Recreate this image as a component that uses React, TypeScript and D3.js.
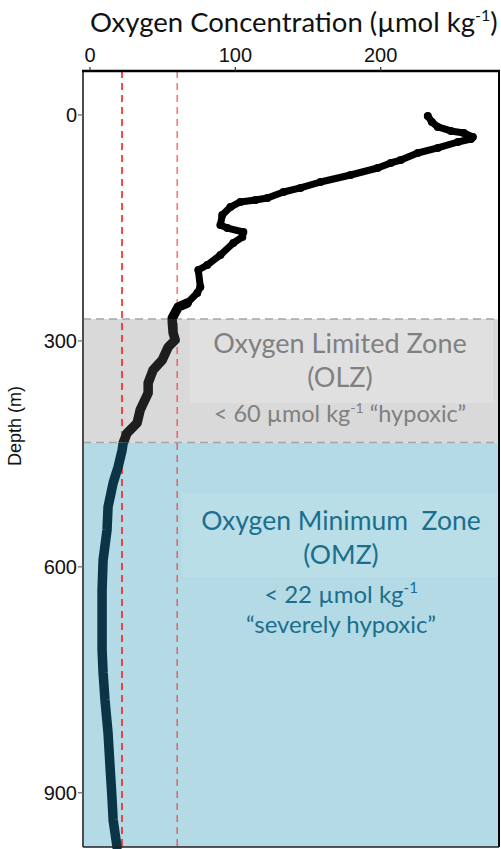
import React from "react";
import * as d3 from "d3";

// Oxygen profile (µmol/kg) vs depth (m)
const oxygen = [232.4, 235.2, 239.3, 248.3, 257.2, 263.4, 262.1, 253.1, 239.3, 225.5, 213.8, 206.9, 197.9, 179.3, 158.6, 144.8, 133.1, 122.1, 113.8, 103.4, 96.6, 91.0, 89.7, 94.5, 105.5, 104.8, 98.6, 89.7, 80.7, 74.5, 75.9, 73.8, 66.9, 60.7, 56.6, 56.6, 57.2, 58.6, 53.8, 49.7, 43.4, 40.0, 40.0, 34.5, 32.4, 25.5, 22.8, 22.1, 19.3, 15.9, 12.4, 11.7, 9.0, 8.3, 8.3, 8.3, 9.0, 10.3, 12.4, 13.8, 15.2, 15.9, 18.6];
const depth = [1.3, 9.3, 15.9, 21.2, 23.9, 29.2, 31.9, 35.9, 43.8, 50.5, 59.8, 63.7, 70.4, 79.7, 89.0, 96.9, 102.3, 110.2, 112.9, 115.5, 122.2, 132.8, 146.1, 150.1, 155.4, 162.0, 170.0, 185.9, 199.2, 205.8, 228.4, 236.4, 249.7, 255.0, 269.6, 274.9, 289.5, 298.8, 308.1, 325.4, 338.6, 355.9, 369.2, 391.8, 409.0, 422.3, 435.6, 444.9, 467.5, 488.7, 520.6, 551.1, 591.0, 630.8, 674.6, 710.5, 741.0, 776.9, 820.7, 865.9, 909.7, 936.3, 972.1];

const xTicks = [0, 100, 200];
const yTicks = [0, 300, 600, 900];
const thresholds = [22, 60];
const olzTop = 271;
const omzTop = 435;

const titleMain = "Oxygen Concentration (µmol kg";
const yTitle = "Depth (m)";
const olzLines = ["Oxygen Limited Zone", "(OLZ)"];
const omzLines = ["Oxygen Minimum  Zone", "(OMZ)"];

export default function App() {
  const W = 501, H = 849;
  const left = 83, right = 499, top = 71, bottom = 847;
  const x = d3.scaleLinear().domain([-4.83, 281.4]).range([left, right]);
  const y = d3.scaleLinear().domain([-58.4, 972]).range([top, bottom]);
  const pts = oxygen.map((o, i) => [o, depth[i]] as [number, number]);
  const line = d3.line<[number, number]>().x(d => x(d[0])).y(d => y(d[1])).curve(d3.curveLinear);
  const upper = pts.filter(d => d[1] <= 256);
  const lower = pts.filter(d => d[1] >= 249);
  const yOlz = y(olzTop), yOmz = y(omzTop);
  const sans = "Lato, 'Open Sans', sans-serif";
  const arial = "'Liberation Sans', Arial, sans-serif";
  const cxText = 341;
  const pre = { whiteSpace: "pre" as const };

  const profile = (color: string, clip: string) => (
    <g clipPath={`url(#${clip})`}>
      <path d={line(upper) || ""} fill="none" stroke={color} strokeWidth={7} strokeLinejoin="round" strokeLinecap="round" />
      {upper.map((d, i) => (
        <circle key={i} cx={x(d[0])} cy={y(d[1])} r={4} fill={color} />
      ))}
      <path d={line(lower) || ""} fill="none" stroke={color} strokeWidth={9.5} strokeLinejoin="round" strokeLinecap="round" />
    </g>
  );

  return (
    <svg width={W} height={H} style={{ position: "absolute", left: 0, top: 0, background: "#fff" }}>
      <defs>
        <clipPath id="cWhite"><rect x={0} y={0} width={W} height={yOlz} /></clipPath>
        <clipPath id="cGrey"><rect x={0} y={yOlz} width={W} height={yOmz - yOlz} /></clipPath>
        <clipPath id="cBlue"><rect x={0} y={yOmz} width={W} height={H - yOmz} /></clipPath>
      </defs>

      {/* zones */}
      <rect x={left} y={yOlz} width={right - left} height={yOmz - yOlz} fill="#d9d9d9" />
      <rect x={190} y={yOlz + 1} width={303} height={83} fill="#e0e0e0" />
      <rect x={left} y={yOmz} width={right - left} height={bottom - yOmz} fill="#b4dbe5" />
      <rect x={182} y={493} width={318} height={84} fill="#b9dee8" />
      {[yOlz, yOmz].map((yy, i) => (
        <line key={i} x1={left} x2={right} y1={yy} y2={yy} stroke="#a6a6a6" strokeWidth={1.5} strokeDasharray="8 5" />
      ))}

      {/* threshold lines */}
      {thresholds.map((t, i) => (
        <line key={t} x1={x(t)} x2={x(t)} y1={top} y2={bottom} stroke="#ff1a1a" strokeOpacity={i === 0 ? 0.8 : 0.6} strokeWidth={i === 0 ? 2 : 1.6} strokeDasharray="7 5" />
      ))}

      {/* profile */}
      {profile("#000000", "cWhite")}
      {profile("#1e1e1e", "cGrey")}
      {profile("#0b3447", "cBlue")}

      {/* frame */}
      <line x1={left} x2={left} y1={top} y2={bottom} stroke="#4d4d4d" strokeWidth={2} />
      <line x1={right} x2={right} y1={top} y2={bottom} stroke="#000" strokeWidth={2} />
      <line x1={left} x2={right} y1={bottom} y2={bottom} stroke="#222" strokeWidth={1.5} />
      <line x1={left - 1} x2={right + 1} y1={top} y2={top} stroke="#000" strokeWidth={2.5} />

      {/* x axis (top) */}
      {xTicks.map(t => (
        <g key={t}>
          <line x1={x(t)} x2={x(t)} y1={top - 4} y2={top} stroke="#333" strokeWidth={1.2} />
          <text x={x(t)} y={62} textAnchor="middle" fontFamily={arial} fontSize={20} fill="#111">{t}</text>
        </g>
      ))}
      {/* y axis */}
      {yTicks.map(t => (
        <g key={t}>
          <line x1={left - 5} x2={left} y1={y(t)} y2={y(t)} stroke="#666" strokeWidth={1.2} />
          <text x={left - 6} y={y(t) + 7} textAnchor="end" fontFamily={arial} fontSize={20} fill="#111">{t}</text>
        </g>
      ))}

      {/* titles */}
      <text x={90} y={32} fontFamily={sans} fontSize={27.5} fill="#111">
        {titleMain}
        <tspan fontSize={16} dy={-11}>-1</tspan>
        <tspan dy={11}>)</tspan>
      </text>
      <text transform="translate(21,426) rotate(-90)" textAnchor="middle" fontFamily={arial} fontSize={18} fill="#111">{yTitle}</text>

      {/* OLZ label */}
      <text x={340} y={353} textAnchor="middle" fontFamily={sans} fontSize={27} fill="#808080">{olzLines[0]}</text>
      <text x={340} y={387} textAnchor="middle" fontFamily={sans} fontSize={27} fill="#808080">{olzLines[1]}</text>
      <text x={340} y={422} textAnchor="middle" fontFamily={sans} fontSize={23.5} fill="#808080" style={pre}>
        {"< 60 µmol kg"}
        <tspan fontSize={14} dy={-9}>-1</tspan>
        <tspan dy={9}>{" “hypoxic”"}</tspan>
      </text>

      {/* OMZ label */}
      <text x={cxText} y={530} textAnchor="middle" fontFamily={sans} fontSize={26.5} fill="#1b6e8c" style={pre}>{omzLines[0]}</text>
      <text x={cxText} y={564} textAnchor="middle" fontFamily={sans} fontSize={26.5} fill="#1b6e8c">{omzLines[1]}</text>
      <text x={cxText} y={603} textAnchor="middle" fontFamily={sans} fontSize={24} fill="#1b6e8c">
        {"< 22 µmol kg"}
        <tspan fontSize={15} dy={-10}>-1</tspan>
      </text>
      <text x={cxText} y={633} textAnchor="middle" fontFamily={sans} fontSize={24} fill="#1b6e8c">{"“severely hypoxic”"}</text>
    </svg>
  );
}
